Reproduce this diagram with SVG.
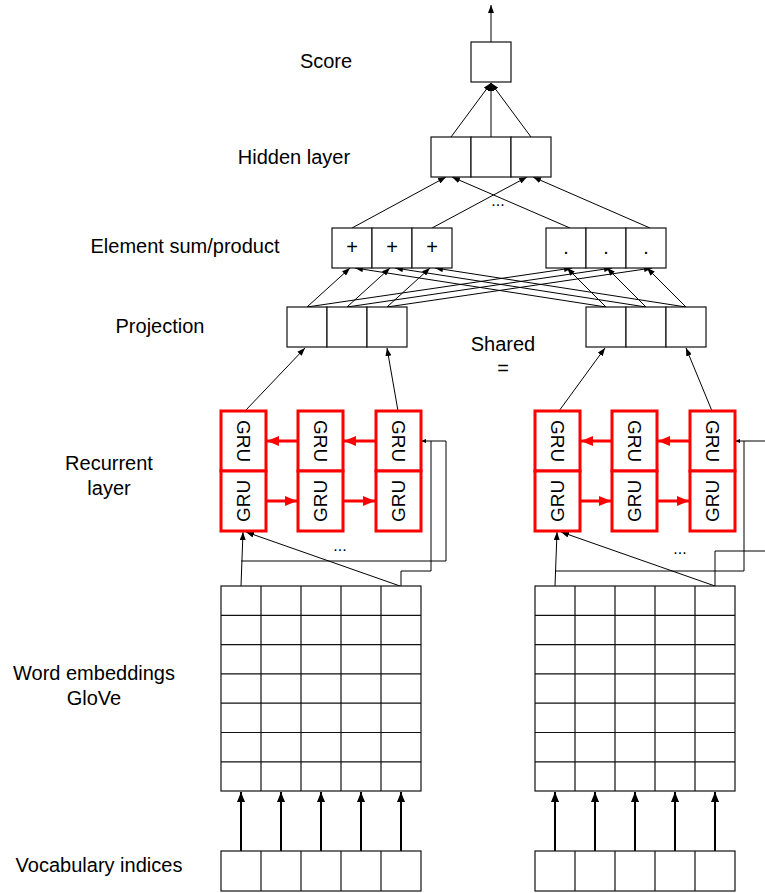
<svg xmlns="http://www.w3.org/2000/svg" width="765" height="893" viewBox="0 0 765 893">
  <style>
    text { font-family: "Liberation Sans", Arial, sans-serif; font-size: 19px; fill: #000; }
    .lbl { text-anchor: middle; }
    .side { text-anchor: middle; font-size: 20px; }
    .box { fill: #fff; stroke: #111; stroke-width: 1.2; }
    .gru { fill: #fff; stroke: #ff0000; stroke-width: 3; }
    .ln { fill: none; stroke: #000; stroke-width: 1; }
    .bold { fill: none; stroke: #000; stroke-width: 2; }
    .red { fill: none; stroke: #ff0000; stroke-width: 3; }
    .gt { text-anchor: middle; dominant-baseline: central; }
  </style>
  <defs>
    <marker id="arr" markerUnits="userSpaceOnUse" markerWidth="8" markerHeight="6" refX="8" refY="3" orient="auto">
      <path d="M0,0 L8,3 L0,6 z" fill="#000"/>
    </marker>
    <marker id="arrS" markerUnits="userSpaceOnUse" markerWidth="5" markerHeight="4" refX="5" refY="2" orient="auto">
      <path d="M0,0 L5,2 L0,4 z" fill="#000"/>
    </marker>
    <marker id="arrB" markerUnits="userSpaceOnUse" markerWidth="10" markerHeight="8" refX="10" refY="4" orient="auto">
      <path d="M0,0 L10,4 L0,8 z" fill="#000"/>
    </marker>
    <marker id="arrR" markerUnits="userSpaceOnUse" markerWidth="12" markerHeight="10" refX="12" refY="5" orient="auto">
      <path d="M0,0 L12,5 L0,10 z" fill="#ff0000"/>
    </marker>
  </defs>

  <!-- side labels -->
  <g id="labels">
    <text class="side" x="326" y="68">Score</text>
    <text class="side" x="294" y="164">Hidden layer</text>
    <text class="side" x="185" y="253">Element sum/product</text>
    <text class="side" x="160" y="333">Projection</text>
    <text class="side" x="503" y="351">Shared</text>
    <text class="side" x="503" y="375">=</text>
    <text class="side" x="109" y="470">Recurrent</text>
    <text class="side" x="109" y="495">layer</text>
    <text class="side" x="94" y="680">Word embeddings</text>
    <text class="side" x="94" y="705">GloVe</text>
    <text class="side" x="99" y="872">Vocabulary indices</text>
  </g>

  <!-- connectors -->
  <g id="connectors">
    <!-- score output -->
    <line class="ln" x1="491" y1="42" x2="491" y2="5" marker-end="url(#arr)"/>
    <!-- hidden -> score -->
    <line class="ln" x1="451" y1="137" x2="491" y2="83" marker-end="url(#arr)"/>
    <line class="ln" x1="491" y1="137" x2="491" y2="83" marker-end="url(#arr)"/>
    <line class="ln" x1="531" y1="137" x2="491" y2="83" marker-end="url(#arr)"/>
    <!-- element -> hidden -->
    <line class="ln" x1="352" y1="228" x2="446" y2="177" marker-end="url(#arr)"/>
    <line class="ln" x1="432" y1="228" x2="527" y2="177" marker-end="url(#arr)"/>
    <line class="ln" x1="570" y1="228" x2="452" y2="177" marker-end="url(#arr)"/>
    <line class="ln" x1="650" y1="228" x2="533" y2="177" marker-end="url(#arr)"/>
    <!-- projection -> element (left) -->
    <line class="ln" x1="307" y1="307" x2="350" y2="268" marker-end="url(#arr)"/>
    <line class="ln" x1="347" y1="307" x2="390" y2="268" marker-end="url(#arr)"/>
    <line class="ln" x1="387" y1="307" x2="430" y2="268" marker-end="url(#arr)"/>
    <line class="ln" x1="307" y1="307" x2="572" y2="268" marker-end="url(#arr)"/>
    <line class="ln" x1="347" y1="307" x2="612" y2="268" marker-end="url(#arr)"/>
    <line class="ln" x1="387" y1="307" x2="652" y2="268" marker-end="url(#arr)"/>
    <!-- projection -> element (right) -->
    <line class="ln" x1="606" y1="307" x2="567" y2="268" marker-end="url(#arr)"/>
    <line class="ln" x1="646" y1="307" x2="607" y2="268" marker-end="url(#arr)"/>
    <line class="ln" x1="686" y1="307" x2="647" y2="268" marker-end="url(#arr)"/>
    <line class="ln" x1="606" y1="307" x2="355" y2="268" marker-end="url(#arr)"/>
    <line class="ln" x1="646" y1="307" x2="395" y2="268" marker-end="url(#arr)"/>
    <line class="ln" x1="686" y1="307" x2="435" y2="268" marker-end="url(#arr)"/>
    <!-- recurrent -> projection -->
    <line class="ln" x1="245" y1="411" x2="305" y2="348" marker-end="url(#arr)"/>
    <line class="ln" x1="398" y1="411" x2="387" y2="348" marker-end="url(#arr)"/>
    <line class="ln" x1="559" y1="411" x2="605" y2="348" marker-end="url(#arr)"/>
    <line class="ln" x1="712" y1="411" x2="686" y2="348" marker-end="url(#arr)"/>
    <!-- red recurrent links, left block -->
    <line class="red" x1="376" y1="441" x2="344" y2="441" marker-end="url(#arrR)"/>
    <line class="red" x1="298" y1="441" x2="267" y2="441" marker-end="url(#arrR)"/>
    <line class="red" x1="266" y1="501" x2="297" y2="501" marker-end="url(#arrR)"/>
    <line class="red" x1="343" y1="501" x2="375" y2="501" marker-end="url(#arrR)"/>
    <!-- red recurrent links, right block -->
    <line class="red" x1="690" y1="441" x2="658" y2="441" marker-end="url(#arrR)"/>
    <line class="red" x1="612" y1="441" x2="581" y2="441" marker-end="url(#arrR)"/>
    <line class="red" x1="580" y1="501" x2="611" y2="501" marker-end="url(#arrR)"/>
    <line class="red" x1="657" y1="501" x2="689" y2="501" marker-end="url(#arrR)"/>
    <!-- embeddings -> recurrent, left -->
    <line class="ln" x1="241" y1="586" x2="243" y2="532" marker-end="url(#arr)"/>
    <line class="ln" x1="400" y1="586" x2="246" y2="532" marker-end="url(#arr)"/>
    <path class="ln" d="M241,561 H446 V441 H421" marker-end="url(#arrS)"/>
    <path class="ln" d="M401,586 V571 H431 V441"/>
    <!-- embeddings -> recurrent, right -->
    <line class="ln" x1="555" y1="586" x2="557" y2="532" marker-end="url(#arr)"/>
    <line class="ln" x1="715" y1="586" x2="561" y2="532" marker-end="url(#arr)"/>
    <path class="ln" d="M555,571 H744 V441 H735" marker-end="url(#arrS)"/>
    <path class="ln" d="M744,441 H765"/>
    <path class="ln" d="M715,586 V551 H765"/>
    <!-- indices -> embeddings -->
    <line class="bold" x1="241" y1="851" x2="241" y2="792" marker-end="url(#arrB)"/>
    <line class="bold" x1="281" y1="851" x2="281" y2="792" marker-end="url(#arrB)"/>
    <line class="bold" x1="321" y1="851" x2="321" y2="792" marker-end="url(#arrB)"/>
    <line class="bold" x1="361" y1="851" x2="361" y2="792" marker-end="url(#arrB)"/>
    <line class="bold" x1="401" y1="851" x2="401" y2="792" marker-end="url(#arrB)"/>
    <line class="bold" x1="555" y1="851" x2="555" y2="792" marker-end="url(#arrB)"/>
    <line class="bold" x1="595" y1="851" x2="595" y2="792" marker-end="url(#arrB)"/>
    <line class="bold" x1="635" y1="851" x2="635" y2="792" marker-end="url(#arrB)"/>
    <line class="bold" x1="675" y1="851" x2="675" y2="792" marker-end="url(#arrB)"/>
    <line class="bold" x1="715" y1="851" x2="715" y2="792" marker-end="url(#arrB)"/>
    <!-- ellipses -->
    <text class="lbl" x="498" y="206" style="font-size:16px">...</text>
    <text class="lbl" x="340" y="551" style="font-size:16px">...</text>
    <text class="lbl" x="680" y="554" style="font-size:16px">...</text>
  </g>

  <g id="score">
    <rect class="box" x="471" y="42" width="40" height="40"/>
  </g>

  <g id="hidden">
    <rect class="box" x="431" y="137" width="40" height="40"/>
    <rect class="box" x="471" y="137" width="40" height="40"/>
    <rect class="box" x="511" y="137" width="40" height="40"/>
  </g>

  <g id="element-sum">
    <rect class="box" x="332" y="228" width="40" height="40"/>
    <rect class="box" x="372" y="228" width="40" height="40"/>
    <rect class="box" x="412" y="228" width="40" height="40"/>
    <text class="lbl" x="352" y="254" style="font-size:20px">+</text>
    <text class="lbl" x="392" y="254" style="font-size:20px">+</text>
    <text class="lbl" x="432" y="254" style="font-size:20px">+</text>
  </g>

  <g id="element-product">
    <rect class="box" x="546" y="228" width="40" height="40"/>
    <rect class="box" x="586" y="228" width="40" height="40"/>
    <rect class="box" x="626" y="228" width="40" height="40"/>
    <text class="lbl" x="566" y="254" style="font-size:20px">.</text>
    <text class="lbl" x="606" y="254" style="font-size:20px">.</text>
    <text class="lbl" x="646" y="254" style="font-size:20px">.</text>
  </g>

  <g id="projection-left">
    <rect class="box" x="287" y="307" width="40" height="40"/>
    <rect class="box" x="327" y="307" width="40" height="40"/>
    <rect class="box" x="367" y="307" width="40" height="40"/>
  </g>

  <g id="projection-right">
    <rect class="box" x="586" y="307" width="40" height="40"/>
    <rect class="box" x="626" y="307" width="40" height="40"/>
    <rect class="box" x="666" y="307" width="40" height="40"/>
  </g>

  <g id="gru-left">
    <rect class="gru" x="221" y="411" width="45" height="60"/>
    <rect class="gru" x="221" y="471" width="45" height="60"/>
    <rect class="gru" x="298" y="411" width="45" height="60"/>
    <rect class="gru" x="298" y="471" width="45" height="60"/>
    <rect class="gru" x="376" y="411" width="45" height="60"/>
    <rect class="gru" x="376" y="471" width="45" height="60"/>
    <text class="gt" transform="translate(243.5,441) rotate(90)">GRU</text>
    <text class="gt" transform="translate(243.5,501) rotate(-90)">GRU</text>
    <text class="gt" transform="translate(320.5,441) rotate(90)">GRU</text>
    <text class="gt" transform="translate(320.5,501) rotate(-90)">GRU</text>
    <text class="gt" transform="translate(398.5,441) rotate(90)">GRU</text>
    <text class="gt" transform="translate(398.5,501) rotate(-90)">GRU</text>
  </g>

  <g id="gru-right">
    <rect class="gru" x="535" y="411" width="45" height="60"/>
    <rect class="gru" x="535" y="471" width="45" height="60"/>
    <rect class="gru" x="612" y="411" width="45" height="60"/>
    <rect class="gru" x="612" y="471" width="45" height="60"/>
    <rect class="gru" x="690" y="411" width="45" height="60"/>
    <rect class="gru" x="690" y="471" width="45" height="60"/>
    <text class="gt" transform="translate(557.5,441) rotate(90)">GRU</text>
    <text class="gt" transform="translate(557.5,501) rotate(-90)">GRU</text>
    <text class="gt" transform="translate(634.5,441) rotate(90)">GRU</text>
    <text class="gt" transform="translate(634.5,501) rotate(-90)">GRU</text>
    <text class="gt" transform="translate(712.5,441) rotate(90)">GRU</text>
    <text class="gt" transform="translate(712.5,501) rotate(-90)">GRU</text>
  </g>

  <g id="embeddings-left">
    <rect class="box" x="221" y="586" width="200" height="205"/>
    <path class="ln" d="M261,586 V791 M301,586 V791 M341,586 V791 M381,586 V791 M221,615.3 H421 M221,644.6 H421 M221,673.9 H421 M221,703.2 H421 M221,732.5 H421 M221,761.8 H421" style="stroke:#111;stroke-width:1.2"/>
  </g>

  <g id="embeddings-right">
    <rect class="box" x="535" y="586" width="200" height="205"/>
    <path class="ln" d="M575,586 V791 M615,586 V791 M655,586 V791 M695,586 V791 M535,615.3 H735 M535,644.6 H735 M535,673.9 H735 M535,703.2 H735 M535,732.5 H735 M535,761.8 H735" style="stroke:#111;stroke-width:1.2"/>
  </g>

  <g id="indices-left">
    <rect class="box" x="221" y="851" width="200" height="40"/>
    <path class="ln" d="M261,851 V891 M301,851 V891 M341,851 V891 M381,851 V891" style="stroke:#111;stroke-width:1.2"/>
  </g>

  <g id="indices-right">
    <rect class="box" x="535" y="851" width="200" height="40"/>
    <path class="ln" d="M575,851 V891 M615,851 V891 M655,851 V891 M695,851 V891" style="stroke:#111;stroke-width:1.2"/>
  </g>
</svg>
